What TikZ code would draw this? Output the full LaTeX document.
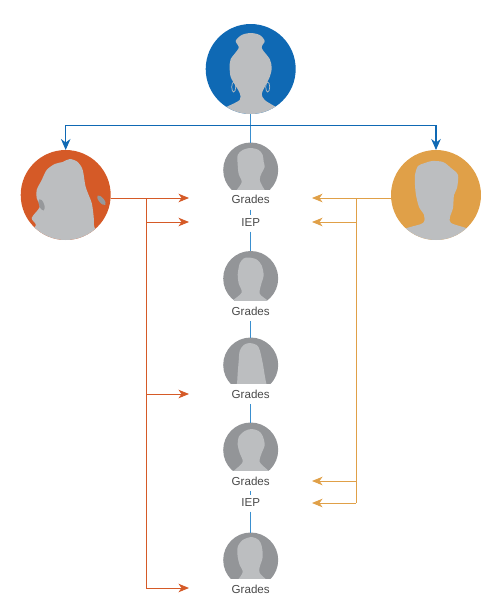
\documentclass[tikz,border=0pt]{standalone}
\usepackage{fontspec}
\setmainfont{Liberation Sans}
\usepackage{xcolor}
\usetikzlibrary{positioning,calc,arrows.meta}

\definecolor{topblue}{HTML}{0F69B4}
\definecolor{midblue}{HTML}{3A8FCF}
\definecolor{sideorange}{HTML}{D55A27}
\definecolor{sideamber}{HTML}{E0A048}
\definecolor{kidgrey}{HTML}{939598}
\definecolor{facegrey}{HTML}{BCBEC0}
\definecolor{hairgrey}{HTML}{96989B}
\definecolor{labelgrey}{HTML}{4A4A4A}

\tikzset{
  bigcircle/.style={circle, fill=#1, minimum size=1.8cm, inner sep=0pt, outer sep=0pt},
  kidcircle/.style={circle, fill=kidgrey, minimum size=1.1cm, inner sep=0pt, outer sep=0pt},
  gradelabel/.style={fill=white, text=labelgrey, font=\fontsize{6.6}{8}\selectfont, minimum width=1.2cm, minimum height=0.4cm, inner sep=0pt, outer sep=0pt},
  ieplabel/.style={fill=white, text=labelgrey, font=\fontsize{6.6}{8}\selectfont, minimum width=0.6cm, minimum height=0.34cm, inner sep=0pt, outer sep=0pt},
  kidline/.style={midblue, line width=0.7pt},
  blueline/.style={topblue, line width=0.6pt, -{Stealth[length=2.2mm, width=1.9mm, inset=0.7mm]}},
  redline/.style={sideorange, line width=0.5pt},
  redarrow/.style={redline, -{Stealth[length=2.1mm, width=1.7mm, inset=0.6mm]}},
  amberline/.style={sideamber, line width=0.5pt},
  amberarrow/.style={amberline, -{Stealth[length=2.1mm, width=1.7mm, inset=0.6mm]}}
}

% silhouette clipped to the circle of a node: name, radius, outline
\newcommand{\faceshape}[3]{
  \begin{scope}[shift={(#1)}]
    \clip (0,0) circle (#2);
    \fill[facegrey] plot[smooth cycle, tension=0.5] coordinates {#3};
  \end{scope}
}

\begin{document}
\begin{tikzpicture}[x=0.02cm, y=-0.02cm]
  \useasboundingbox (0,0) rectangle (500,616);

  % Parents
  \node[bigcircle=topblue] (topP) at (250.7,69) {};
  \node[bigcircle=sideorange] (leftP) at (65.7,195) {};
  \node[bigcircle=sideamber] (rightP) at (436,195) {};

  % Children
  \node[kidcircle] (kidA) at (250.7,170) {};
  \node[kidcircle] (kidB) at (250.7,278.5) {};
  \node[kidcircle] (kidC) at (250.7,365) {};
  \node[kidcircle] (kidD) at (250.7,450) {};
  \node[kidcircle] (kidE) at (250.7,560) {};

  % Faces of the parents
  \faceshape{topP}{45}{(0,-36) (9,-34) (14,-28) (11,-21) (19,-10) (21,-1) (19,8) (14,18) (11,25) (14,31) (25.5,38) (42,46) (42,70) (-42,70) (-42,46) (-24.5,38) (-11,31) (-11,24) (-15,17) (-20,8) (-21,-1) (-20,-10) (-12,-21) (-15,-28) (-9,-34)}
  \draw[facegrey, line width=0.4pt] ($(topP)+(-17,18)$) ellipse (2 and 5);
  \draw[facegrey, line width=0.4pt] ($(topP)+(17,18)$) ellipse (2 and 5);
  \faceshape{leftP}{45}{(4,-36) (12,-33) (17,-25) (20,-8) (26,8) (28,22) (29,33) (38,46) (38,70) (-46,70) (-46,42) (-30,31) (-34,23) (-26,12) (-29,3) (-29,-5) (-24,-15) (-19,-25) (-11,-31) (-3,-33)}
  \fill[hairgrey, rotate around={20:($(leftP)+(-26,1)$)}] ($(leftP)+(-26,1)$) ellipse (2.5 and 6);
  \fill[hairgrey, rotate around={40:($(leftP)+(24,27)$)}] ($(leftP)+(24,27)$) ellipse (2.5 and 6);
  \faceshape{rightP}{45}{(-4,-34) (7,-33) (15,-27) (22,-20) (21,-7) (18,0) (17,13) (14,22) (15,28) (30,33) (48,40) (48,70) (-48,70) (-47,40) (-29,33) (-13,28) (-12,20) (-17,12) (-20,0) (-21,-10) (-21,-20) (-18,-29) (-11,-32)}

  % Faces of the children
  \faceshape{kidA}{27.5}{(0,-22) (8,-20) (12,-15) (13,-8) (14,-3) (11,3) (9,10) (14,20) (22,30) (22,50) (-22,50) (-22,30) (-14,20) (-9,12) (-12,4) (-13,-5) (-13,-15) (-8,-20)}
  \faceshape{kidB}{27.5}{(-2,-21) (6,-19) (11,-13) (13,-3) (11,4) (9,15) (17,22) (26,30) (26,50) (-26,50) (-26,30) (-18,22) (-9,14) (-12,5) (-13,-4) (-11,-15) (-7,-20)}
  \faceshape{kidC}{27.5}{(-1,-22) (6,-20) (9,-15) (12,-2) (14,10) (16,20) (20,30) (20,50) (-20,50) (-18,30) (-14,20) (-13,8) (-12,-4) (-11,-14) (-7,-20)}
  \faceshape{kidD}{27.5}{(1,-21) (8,-19) (12,-14) (14,-5) (11,3) (9,12) (17,20) (26,28) (26,50) (-26,50) (-26,28) (-16,20) (-8,12) (-11,3) (-13,-5) (-12,-13) (-6,-19)}
  \faceshape{kidE}{27.5}{(1,-23) (8,-20) (11,-14) (12,-3) (9,7) (9,13) (16,20) (24,28) (24,50) (-22,50) (-22,28) (-13,20) (-8,12) (-11,5) (-13,-3) (-13,-13) (-8,-20)}

  % Labels
  \node[gradelabel] (gradeA) at (250.7,199.5) {Grades};
  \node[ieplabel] (iepA) at (250.7,223) {IEP};
  \node[gradelabel] (gradeB) at (250.7,311) {Grades};
  \node[gradelabel] (gradeC) at (250.7,394) {Grades};
  \node[gradelabel] (gradeD) at (250.7,481) {Grades};
  \node[ieplabel] (iepD) at (250.7,503) {IEP};
  \node[gradelabel] (gradeE) at (250.7,589) {Grades};

  % Centre column
  \draw[kidline] (topP) -- (kidA);
  \draw[kidline] (gradeA) -- (iepA);
  \draw[kidline] (iepA) -- (kidB);
  \draw[kidline] (gradeB) -- (kidC);
  \draw[kidline] (gradeC) -- (kidD);
  \draw[kidline] (gradeD) -- (iepD);
  \draw[kidline] (iepD) -- (kidE);

  % Blue bar
  \coordinate (barC) at (250.7,125.5);
  \draw[blueline] (barC) -| (leftP);
  \draw[blueline] (barC) -| (rightP);

  % Left parent arrows
  \coordinate (redA) at (189,198);
  \coordinate (redB) at (189,222);
  \coordinate (redC) at (189,394);
  \coordinate (redD) at (189,588);
  \coordinate (redbus) at (146,198);
  \draw[redarrow] (leftP.east |- redA) -- (redA);
  \draw[redline] (redbus) -- (redbus |- redD);
  \draw[redarrow] (redbus |- redB) -- (redB);
  \draw[redarrow] (redbus |- redC) -- (redC);
  \draw[redarrow] (redbus |- redD) -- (redD);

  % Right parent arrows
  \coordinate (amberA) at (312,198);
  \coordinate (amberB) at (312,222);
  \coordinate (amberC) at (312,481);
  \coordinate (amberD) at (312,503);
  \coordinate (amberbus) at (356,198);
  \draw[amberarrow] (rightP.west |- amberA) -- (amberA);
  \draw[amberline] (amberbus) -- (amberbus |- amberD);
  \draw[amberarrow] (amberbus |- amberB) -- (amberB);
  \draw[amberarrow] (amberbus |- amberC) -- (amberC);
  \draw[amberarrow] (amberbus |- amberD) -- (amberD);
\end{tikzpicture}
\end{document}
